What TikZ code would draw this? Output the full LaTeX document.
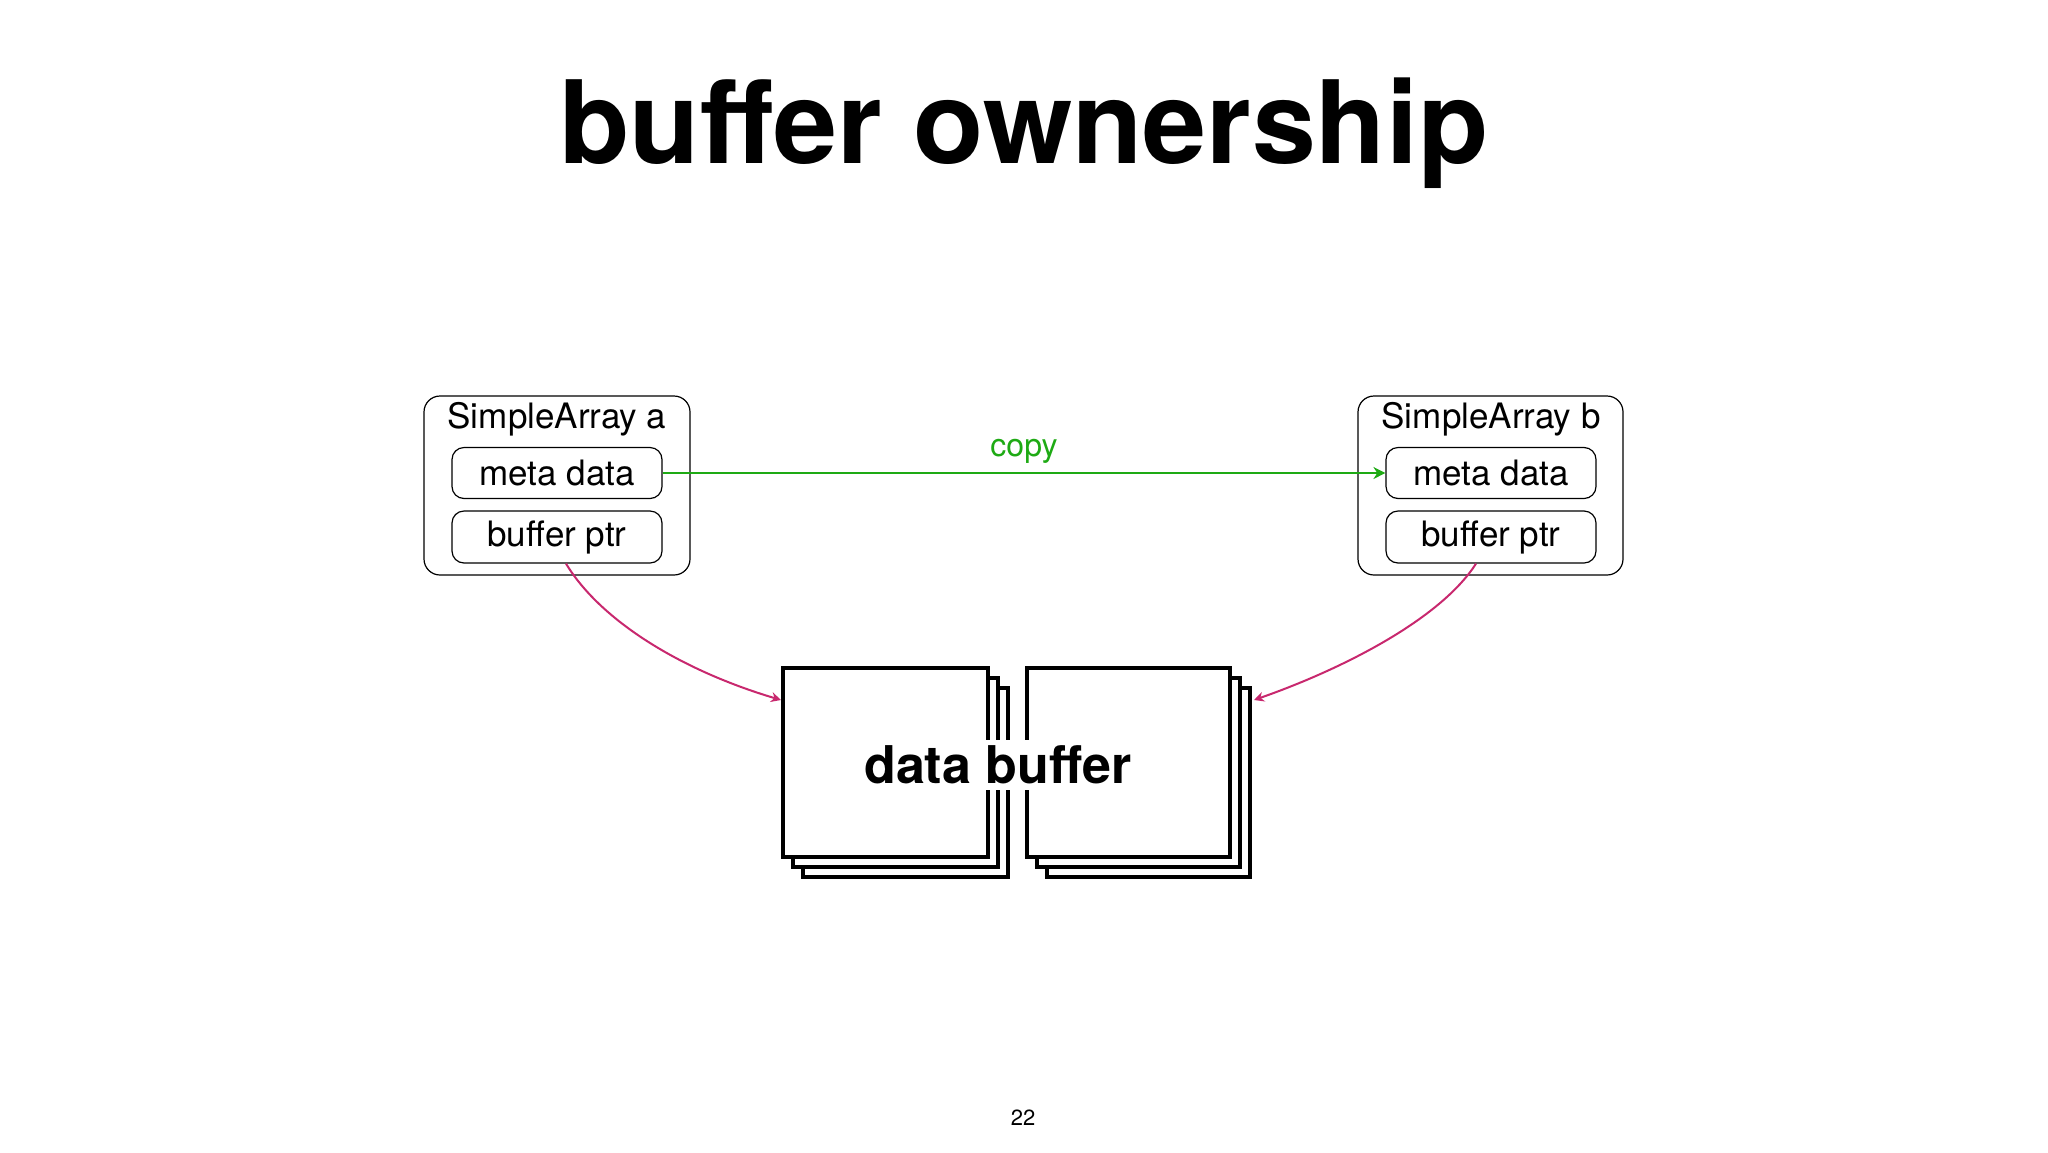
\documentclass[tikz,border=0pt]{standalone}
\usepackage{fontspec}
\setmainfont{TeX Gyre Heros}
\usetikzlibrary{arrows.meta}
\definecolor{mag}{RGB}{200,40,110}
\definecolor{grn}{RGB}{30,170,20}
\tikzset{
 outerbox/.style={draw,rounded corners=8pt,line width=0.6pt},
 innerbox/.style={draw,rounded corners=6pt,line width=0.6pt,font=\fontsize{17.5}{20}\selectfont},
 sheet/.style={draw,fill=white,line width=2pt},
 ptr/.style={mag,line width=1pt,-{Stealth[length=5pt,width=5pt]}},
}
\begin{document}
\begin{tikzpicture}[x=0.5pt,y=-0.5pt]
\useasboundingbox (0,0) rectangle (2048,1152);
\node (title) at (1024,133) {\fontsize{57.5}{60}\selectfont\bfseries buffer ownership};
% box a
\draw[outerbox] (424,396) rectangle (690,575);
\node[font=\fontsize{17.5}{20}\selectfont] (la) at (557,419) {SimpleArray a};
\node[innerbox,minimum width=105pt,minimum height=25.5pt] (ma) at (557,473) {meta data};
\node[innerbox,minimum width=105pt,minimum height=26pt] (ba) at (557,537) {buffer ptr};
% box b
\draw[outerbox] (1358,396) rectangle (1623,575);
\node[font=\fontsize{17.5}{20}\selectfont] (lb) at (1491,419) {SimpleArray b};
\node[innerbox,minimum width=105pt,minimum height=25.5pt] (mb) at (1491,473) {meta data};
\node[innerbox,minimum width=105pt,minimum height=26pt] (bb) at (1491,537) {buffer ptr};
% data buffer stacks
\foreach \d in {20,10,0}{
 \draw[sheet] (783+\d,668+\d) rectangle (988+\d,857+\d);
 \draw[sheet] (1027+\d,668+\d) rectangle (1230+\d,857+\d);
}
\coordinate (dl) at (781,700);
\coordinate (dr) at (1254,700);
\node[fill=white,inner sep=3pt,font=\fontsize{26}{28}\selectfont\bfseries] (db) at (998,765) {data buffer};
% connectors
\draw[grn,line width=1pt,-{Stealth[length=6pt,width=6pt]}] (ma.east) -- node[above=1pt,font=\fontsize{16}{18}\selectfont,text=grn] (cp) {copy} (mb.west);
\draw[ptr] ([xshift=4.5pt]ba.south) .. controls (600,620) and (680,670) .. (dl);
\draw[ptr] ([xshift=-7.5pt]bb.south) .. controls (1440,620) and (1340,670) .. (dr);
\node[font=\fontsize{11}{12}\selectfont] (pg) at (1023,1118) {22};
\end{tikzpicture}
\end{document}
